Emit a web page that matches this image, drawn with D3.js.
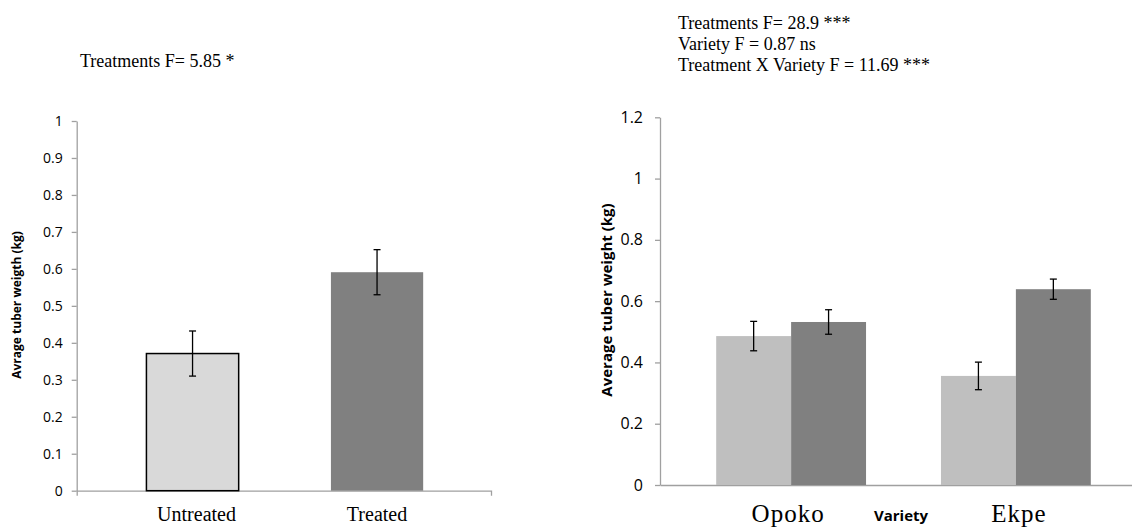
<!DOCTYPE html>
<html>
<head>
<meta charset="utf-8">
<script src="https://cdn.jsdelivr.net/npm/d3@7"></script>
<style>
  body { margin: 0; background: #fff; }
  .tick text { font-family: "Open Sans", sans-serif; fill: #000; }
  .serif { font-family: "Liberation Serif", "Times New Roman", serif; fill: #000; }
  .ylab { font-family: "Open Sans", sans-serif; font-weight: bold; fill: #000; }
</style>
</head>
<body>
<svg id="chart" width="1132" height="528"></svg>
<script>
// left panel: treatment only
var leftCategories = ["Untreated", "Treated"];
var leftMeans = [0.371, 0.591];
var leftErrors = [0.061, 0.061];
var leftTicks = [0, 0.1, 0.2, 0.3, 0.4, 0.5, 0.6, 0.7, 0.8, 0.9, 1];
var leftNotes = ["Treatments F= 5.85 *"];

// right panel: treatment x variety
var varieties = ["Opoko", "Ekpe"];
var treatments = ["Untreated", "Treated"];
var opokoMeans = [0.486, 0.532];
var opokoErrors = [0.048, 0.040];
var ekpeMeans = [0.356, 0.639];
var ekpeErrors = [0.045, 0.033];
var rightTicks = [0, 0.2, 0.4, 0.6, 0.8, 1, 1.2];
var rightNotes = ["Treatments F= 28.9 ***", "Variety F = 0.87 ns", "Treatment X Variety  F = 11.69 ***"];

var svg = d3.select("#chart");
var axisColor = "#a0a0a0";

function styleAxis(g) {
  g.select(".domain").attr("stroke", axisColor).attr("stroke-width", 1.3);
  g.selectAll(".tick line").attr("stroke", axisColor).attr("stroke-width", 1.3);
}

function errorBar(g, cx, yTop, yBot, cap) {
  g.append("line").attr("x1", cx).attr("x2", cx).attr("y1", yTop).attr("y2", yBot);
  g.append("line").attr("x1", cx - cap).attr("x2", cx + cap).attr("y1", yTop).attr("y2", yTop);
  g.append("line").attr("x1", cx - cap).attr("x2", cx + cap).attr("y1", yBot).attr("y2", yBot);
}

// ---------- left chart ----------
var yL = d3.scaleLinear().domain([0, 1]).range([490.7, 121]);
var xL = d3.scaleBand().domain(leftCategories).range([100.3, 469.3]).paddingInner(0.5).paddingOuter(0.25);
var frameL = d3.scaleLinear().range([76.7, 491]);

svg.append("g")
  .attr("transform", "translate(76.7,0)")
  .call(d3.axisLeft(yL).tickValues(leftTicks).tickFormat(d3.format("~g")).tickSize(5).tickSizeOuter(0).tickPadding(9))
  .call(styleAxis)
  .selectAll(".tick text").style("font-size", "14px");

svg.append("g")
  .attr("transform", "translate(0,490.7)")
  .call(d3.axisBottom(frameL).tickValues([]).tickSizeOuter(5))
  .call(styleAxis);

svg.append("g").selectAll("rect")
  .data(leftCategories)
  .join("rect")
  .attr("x", function(d) { return xL(d); })
  .attr("width", xL.bandwidth())
  .attr("y", function(d, i) { return yL(leftMeans[i]); })
  .attr("height", function(d, i) { return yL(0) - yL(leftMeans[i]); })
  .attr("fill", function(d, i) { return i === 0 ? "#d9d9d9" : "#808080"; })
  .attr("stroke", function(d, i) { return i === 0 ? "#000" : "none"; })
  .attr("stroke-width", 1.5);

var errL = svg.append("g").attr("stroke", "#000").attr("stroke-width", 1.3);
leftCategories.forEach(function(c, i) {
  var cx = xL(c) + xL.bandwidth() / 2;
  errorBar(errL, cx, yL(leftMeans[i] + leftErrors[i]), yL(leftMeans[i] - leftErrors[i]), 3.5);
});

svg.append("g").selectAll("text")
  .data(leftCategories)
  .join("text")
  .attr("class", "serif")
  .attr("x", function(d, i) { return xL(d) + xL.bandwidth() / 2 + (i === 0 ? 4 : 0); })
  .attr("y", 521)
  .attr("text-anchor", "middle")
  .style("font-size", "20px")
  .text(function(d) { return d; });

svg.append("text")
  .attr("class", "ylab")
  .attr("transform", "translate(21,305) rotate(-90)")
  .attr("text-anchor", "middle")
  .style("font-size", "12px")
  .text("Avrage tuber weigth (kg)");

svg.append("g").selectAll("text")
  .data(leftNotes)
  .join("text")
  .attr("class", "serif")
  .attr("x", 80)
  .attr("y", function(d, i) { return 67 + i * 21; })
  .style("font-size", "18px")
  .text(function(d) { return d; });

// ---------- right chart ----------
var yR = d3.scaleLinear().domain([0, 1.2]).range([485, 117.3]);
var x0 = d3.scaleBand().domain(varieties).range([660, 1147]).paddingInner(1 / 3).paddingOuter(0.25);
var x1 = d3.scaleBand().domain(treatments).range([0, x0.bandwidth()]);
var frameR = d3.scaleLinear().range([660, 1147]);
var rightMeans = [opokoMeans, ekpeMeans];
var rightErrors = [opokoErrors, ekpeErrors];
var shade = ["#bfbfbf", "#808080"];

svg.append("g")
  .attr("transform", "translate(660,0)")
  .call(d3.axisLeft(yR).tickValues(rightTicks).tickFormat(d3.format("~g")).tickSize(5).tickSizeOuter(0).tickPadding(12))
  .call(styleAxis)
  .selectAll(".tick text").style("font-size", "16px");

svg.append("g")
  .attr("transform", "translate(0,485)")
  .call(d3.axisBottom(frameR).tickValues([]).tickSizeOuter(0))
  .call(styleAxis);

var groups = svg.append("g").selectAll("g")
  .data(varieties)
  .join("g")
  .attr("transform", function(d) { return "translate(" + x0(d) + ",0)"; });

groups.selectAll("rect")
  .data(function(d, vi) { return treatments.map(function(t, ti) { return { t: t, v: rightMeans[vi][ti], e: rightErrors[vi][ti], ti: ti }; }); })
  .join("rect")
  .attr("x", function(d) { return x1(d.t); })
  .attr("width", x1.bandwidth())
  .attr("y", function(d) { return yR(d.v); })
  .attr("height", function(d) { return yR(0) - yR(d.v); })
  .attr("fill", function(d) { return shade[d.ti]; });

var errR = svg.append("g").attr("stroke", "#000").attr("stroke-width", 1.3);
varieties.forEach(function(v, vi) {
  treatments.forEach(function(t, ti) {
    var cx = x0(v) + x1(t) + x1.bandwidth() / 2;
    var m = rightMeans[vi][ti], e = rightErrors[vi][ti];
    errorBar(errR, cx, yR(m + e), yR(m - e), 3.5);
  });
});

svg.append("g").selectAll("text")
  .data(varieties)
  .join("text")
  .attr("class", "serif")
  .attr("x", function(d, i) { return x0(d) + x0.bandwidth() / 2 + (i === 0 ? -3 : 3); })
  .attr("y", 522)
  .attr("text-anchor", "middle")
  .style("font-size", "25px")
  .style("letter-spacing", "1px")
  .text(function(d) { return d; });

svg.append("text")
  .attr("class", "ylab")
  .attr("x", 901)
  .attr("y", 521)
  .attr("text-anchor", "middle")
  .style("font-size", "15px")
  .text("Variety");

svg.append("text")
  .attr("class", "ylab")
  .attr("transform", "translate(612,300) rotate(-90)")
  .attr("text-anchor", "middle")
  .style("font-size", "15px")
  .text("Average tuber weight (kg)");

svg.append("g").selectAll("text")
  .data(rightNotes)
  .join("text")
  .attr("class", "serif")
  .attr("x", 678)
  .attr("y", function(d, i) { return 29 + i * 21; })
  .style("font-size", "18px")
  .text(function(d) { return d; });
</script>
</body>
</html>
